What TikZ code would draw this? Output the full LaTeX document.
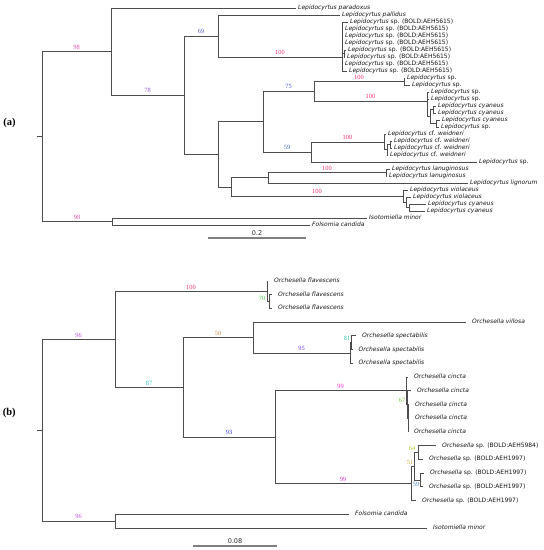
\documentclass[tikz,border=0pt]{standalone}
\usepackage{fontspec}
\usepackage{tikz}
\newfontfamily\leaffont{DejaVu Sans}[ItalicFont={DejaVu Sans Oblique}]
\newfontfamily\numfont{Liberation Serif}
\definecolor{c98}{HTML}{E050B0}
\definecolor{c78}{HTML}{9F50E0}
\definecolor{c69}{HTML}{5A5AE0}
\definecolor{c100}{HTML}{E8306A}
\definecolor{c75}{HTML}{4A50E0}
\definecolor{c59}{HTML}{4A70E0}
\definecolor{c96}{HTML}{C050E0}
\definecolor{c87}{HTML}{30B8C8}
\definecolor{c50}{HTML}{E08A4A}
\definecolor{c93}{HTML}{3A3AE0}
\definecolor{c95}{HTML}{6A40E0}
\definecolor{c81}{HTML}{30C8A8}
\definecolor{c99}{HTML}{E030C8}
\definecolor{c67}{HTML}{78C830}
\definecolor{c70}{HTML}{40D840}
\definecolor{c64}{HTML}{A8C830}
\definecolor{c51}{HTML}{D0A830}
\definecolor{c59b}{HTML}{4888E0}

\begin{document}
\begin{tikzpicture}[x=1pt, y=-1pt,
	br/.style={draw=black!70, line width=0.85pt},
	leafa/.style={anchor=west, inner xsep=2.5pt, inner ysep=0pt, text height=4.4pt, text depth=1.3pt, text=black!92, font=\leaffont\fontsize{6}{7}\selectfont},
	leafb/.style={leafa, inner xsep=6pt},
	bs/.style={font=\numfont\fontsize{6.4}{7}\selectfont, above, inner sep=1.8pt, pos=0.75},
	bsl/.style={font=\numfont\fontsize{6.4}{7}\selectfont, inner sep=0pt},
	scalebar/.style={draw=black!50, line width=1.4pt},
	barlab/.style={font=\leaffont\fontsize{6.5}{7}\selectfont, text=black!85, above, inner sep=2pt},
	paneltag/.style={font=\numfont\bfseries\fontsize{10.5}{12}\selectfont}]
	\useasboundingbox (0, 0) rectangle (544, 550);
	% (a) Lepidocyrtus
	\node [paneltag] (pa) at (9.5, 123) {(a)};
	\node [leafa] (l0) at (295.5, 8) {\textit{Lepidocyrtus paradoxus}};
	\node [leafa] (l1) at (339.5, 15) {\textit{Lepidocyrtus pallidus}};
	\node [leafa] (l2) at (347.5, 22) {\textit{Lepidocyrtus} sp. (BOLD:AEH5615)};
	\node [leafa] (l3) at (342.5, 29) {\textit{Lepidocyrtus} sp. (BOLD:AEH5615)};
	\node [leafa] (l4) at (342.5, 36) {\textit{Lepidocyrtus} sp. (BOLD:AEH5615)};
	\node [leafa] (l5) at (342.5, 43) {\textit{Lepidocyrtus} sp. (BOLD:AEH5615)};
	\node [leafa] (l6) at (345.5, 50) {\textit{Lepidocyrtus} sp. (BOLD:AEH5615)};
	\node [leafa] (l7) at (344.5, 57) {\textit{Lepidocyrtus} sp. (BOLD:AEH5615)};
	\node [leafa] (l8) at (342.5, 64) {\textit{Lepidocyrtus} sp. (BOLD:AEH5615)};
	\node [leafa] (l9) at (346.5, 71) {\textit{Lepidocyrtus} sp. (BOLD:AEH5615)};
	\node [leafa] (l10) at (404.5, 78) {\textit{Lepidocyrtus} sp.};
	\node [leafa] (l11) at (409.5, 85) {\textit{Lepidocyrtus} sp.};
	\node [leafa] (l12) at (428.5, 92) {\textit{Lepidocyrtus} sp.};
	\node [leafa] (l13) at (428.5, 99) {\textit{Lepidocyrtus} sp.};
	\node [leafa] (l14) at (435.5, 106) {\textit{Lepidocyrtus cyaneus}};
	\node [leafa] (l15) at (435.5, 113) {\textit{Lepidocyrtus cyaneus}};
	\node [leafa] (l16) at (439.5, 120) {\textit{Lepidocyrtus cyaneus}};
	\node [leafa] (l17) at (438.5, 127) {\textit{Lepidocyrtus} sp.};
	\node [leafa] (l18) at (385.5, 134) {\textit{Lepidocyrtus} cf. \textit{weidneri}};
	\node [leafa] (l19) at (391.5, 141) {\textit{Lepidocyrtus} cf. \textit{weidneri}};
	\node [leafa] (l20) at (391.5, 148) {\textit{Lepidocyrtus} cf. \textit{weidneri}};
	\node [leafa] (l21) at (387.5, 155) {\textit{Lepidocyrtus} cf. \textit{weidneri}};
	\node [leafa] (l22) at (476.5, 162) {\textit{Lepidocyrtus} sp.};
	\node [leafa] (l23) at (389.5, 169) {\textit{Lepidocyrtus lanuginosus}};
	\node [leafa] (l24) at (386.5, 176) {\textit{Lepidocyrtus lanuginosus}};
	\node [leafa] (l25) at (467.5, 183) {\textit{Lepidocyrtus lignorum}};
	\node [leafa] (l26) at (407.5, 190) {\textit{Lepidocyrtus violaceus}};
	\node [leafa] (l27) at (410.5, 197) {\textit{Lepidocyrtus violaceus}};
	\node [leafa] (l28) at (425.5, 204) {\textit{Lepidocyrtus cyaneus}};
	\node [leafa] (l29) at (424.5, 211) {\textit{Lepidocyrtus cyaneus}};
	\node [leafa] (l30) at (366.5, 218) {\textit{Isotomiella minor}};
	\node [leafa] (l31) at (309.5, 225) {\textit{Folsomia candida}};
	\coordinate (a0s) at (37, 136.5);
	\coordinate (a0) at (42, 136.5);
	\coordinate (a1) at (111, 51.6);
	\coordinate (a2) at (184, 95.2);
	\coordinate (a3) at (218, 36);
	\coordinate (a4) at (342, 57);
	\coordinate (a4s) at (344, 53.5);
	\coordinate (a5) at (218, 154.3);
	\coordinate (a6) at (263, 121.6);
	\coordinate (a7) at (314, 91.25);
	\coordinate (a8) at (404, 81.5);
	\coordinate (a9) at (427, 101);
	\coordinate (a9s) at (430, 116.5);
	\coordinate (a9t) at (433, 109.5);
	\coordinate (a9u) at (436, 123.5);
	\coordinate (a10) at (311, 152);
	\coordinate (a11) at (384, 142);
	\coordinate (a11s) at (387, 149.75);
	\coordinate (a11t) at (390, 144.5);
	\coordinate (a12) at (231, 187);
	\coordinate (a13) at (268, 177.75);
	\coordinate (a14) at (386, 172.5);
	\coordinate (a15) at (403, 196.1);
	\coordinate (a15s) at (406, 202.25);
	\coordinate (a15t) at (409, 207.5);
	\coordinate (a16) at (112, 221.5);
	\draw [br] (a0s) -- (a0);
	\draw [br] (a0) |- node [bs, text=c98] {98} (a1);
	\draw [br] (a0) |- node [bs, text=c98] {98} (a16);
	\draw [br] (a1) |- (l0.west);
	\draw [br] (a1) |- node [bs, text=c78] {78} (a2);
	\draw [br] (a2) |- node [bs, text=c69] {69} (a3);
	\draw [br] (a2) |- (a5);
	\draw [br] (a3) |- (l1.west);
	\draw [br] (a3) |- node [bs, text=c100] {100} (a4);
	\draw [br] (a4) |- (l2.west);
	\draw [br] (a4) |- (l3.west);
	\draw [br] (a4) |- (l4.west);
	\draw [br] (a4) |- (l5.west);
	\draw [br] (a4) |- (a4s);
	\draw [br] (a4) |- (l8.west);
	\draw [br] (a4) |- (l9.west);
	\draw [br] (a4s) |- (l6.west);
	\draw [br] (a4s) |- (l7.west);
	\draw [br] (a5) |- (a6);
	\draw [br] (a5) |- (a12);
	\draw [br] (a6) |- node [bs, text=c75] {75} (a7);
	\draw [br] (a6) |- node [bs, text=c59] {59} (a10);
	\draw [br] (a7) |- node [bs, text=c100] {100} (a8);
	\draw [br] (a7) |- node [bs, text=c100] {100} (a9);
	\draw [br] (a8) |- (l10.west);
	\draw [br] (a8) |- (l11.west);
	\draw [br] (a9) |- (l12.west);
	\draw [br] (a9) |- (l13.west);
	\draw [br] (a9) |- (a9s);
	\draw [br] (a9s) |- (a9t);
	\draw [br] (a9s) |- (a9u);
	\draw [br] (a9t) |- (l14.west);
	\draw [br] (a9t) |- (l15.west);
	\draw [br] (a9u) |- (l16.west);
	\draw [br] (a9u) |- (l17.west);
	\draw [br] (a10) |- node [bs, text=c100] {100} (a11);
	\draw [br] (a10) |- (l22.west);
	\draw [br] (a11) |- (l18.west);
	\draw [br] (a11) |- (a11s);
	\draw [br] (a11s) |- (a11t);
	\draw [br] (a11s) |- (l21.west);
	\draw [br] (a11t) |- (l19.west);
	\draw [br] (a11t) |- (l20.west);
	\draw [br] (a12) |- (a13);
	\draw [br] (a12) |- node [bs, text=c100] {100} (a15);
	\draw [br] (a13) |- node [bs, text=c100] {100} (a14);
	\draw [br] (a13) |- (l25.west);
	\draw [br] (a14) |- (l23.west);
	\draw [br] (a14) |- (l24.west);
	\draw [br] (a15) |- (l26.west);
	\draw [br] (a15) |- (a15s);
	\draw [br] (a15s) |- (l27.west);
	\draw [br] (a15s) |- (a15t);
	\draw [br] (a15t) |- (l28.west);
	\draw [br] (a15t) |- (l29.west);
	\draw [br] (a16) |- (l30.west);
	\draw [br] (a16) |- (l31.west);
	\coordinate (sa0) at (208, 238);
	\coordinate (sa1) at (306, 238);
	\draw [scalebar] (sa0) -- node [barlab] {0.2} (sa1);
	% (b) Orchesella
	\node [paneltag] (pb) at (9.3, 413) {(b)};
	\node [leafb] (m0) at (268, 281) {\textit{Orchesella flavescens}};
	\node [leafb] (m1) at (272, 294.7) {\textit{Orchesella flavescens}};
	\node [leafb] (m2) at (272, 308.4) {\textit{Orchesella flavescens}};
	\node [leafb] (m3) at (466, 322.2) {\textit{Orchesella villosa}};
	\node [leafb] (m4) at (356, 335.9) {\textit{Orchesella spectabilis}};
	\node [leafb] (m5) at (352.5, 349.6) {\textit{Orchesella spectabilis}};
	\node [leafb] (m6) at (352.5, 363.3) {\textit{Orchesella spectabilis}};
	\node [leafb] (m7) at (408, 377) {\textit{Orchesella cincta}};
	\node [leafb] (m8) at (411, 390.8) {\textit{Orchesella cincta}};
	\node [leafb] (m9) at (409, 404.5) {\textit{Orchesella cincta}};
	\node [leafb] (m10) at (409, 418.2) {\textit{Orchesella cincta}};
	\node [leafb] (m11) at (408, 431.9) {\textit{Orchesella cincta}};
	\node [leafb] (m12) at (436, 445.6) {\textit{Orchesella} sp. (BOLD:AEH5984)};
	\node [leafb] (m13) at (423, 459.4) {\textit{Orchesella} sp. (BOLD:AEH1997)};
	\node [leafb] (m14) at (424, 473.1) {\textit{Orchesella} sp. (BOLD:AEH1997)};
	\node [leafb] (m15) at (423, 486.8) {\textit{Orchesella} sp. (BOLD:AEH1997)};
	\node [leafb] (m16) at (416, 500.5) {\textit{Orchesella} sp. (BOLD:AEH1997)};
	\node [leafb] (m17) at (349, 514.2) {\textit{Folsomia candida}};
	\node [leafb] (m18) at (427, 528) {\textit{Isotomiella minor}};
	\coordinate (b0s) at (37, 430.2);
	\coordinate (b0) at (42, 430.2);
	\coordinate (b1) at (115, 339.3);
	\coordinate (b2) at (267, 291.3);
	\coordinate (b2s) at (269, 301.5);
	\coordinate (b3) at (183, 387.3);
	\coordinate (b4) at (253, 337.6);
	\coordinate (b5) at (350, 353);
	\coordinate (b5s) at (351.5, 342.8);
	\coordinate (b7) at (275, 437);
	\coordinate (b8) at (406, 390.7);
	\coordinate (b8s) at (407, 404.5);
	\coordinate (b8t) at (408, 418.2);
	\coordinate (b11) at (411, 483.4);
	\coordinate (b11s) at (414, 466.2);
	\coordinate (b11t) at (418, 452.5);
	\coordinate (b11u) at (420, 480);
	\coordinate (b15) at (115, 521.1);
	\draw [br] (b0s) -- (b0);
	\draw [br] (b0) |- node [bs, text=c96] {96} (b1);
	\draw [br] (b0) |- node [bs, text=c96] {96} (b15);
	\draw [br] (b1) |- node [bs, text=c100] {100} (b2);
	\draw [br] (b1) |- node [bs, text=c87] {87} (b3);
	\draw [br] (b2) |- (m0.west);
	\draw [br] (b2) |- (b2s);
	\draw [br] (b2s) |- (m1.west);
	\draw [br] (b2s) |- (m2.west);
	\draw [br] (b3) |- node [bs, text=c50] {50} (b4);
	\draw [br] (b3) |- node [bs, text=c93] {93} (b7);
	\draw [br] (b4) |- (m3.west);
	\draw [br] (b4) |- node [bs, text=c95] {95} (b5);
	\draw [br] (b5) |- (b5s);
	\draw [br] (b5) |- (m6.west);
	\draw [br] (b5s) |- (m4.west);
	\draw [br] (b5s) |- (m5.west);
	\draw [br] (b7) |- node [bs, text=c99] {99} (b8);
	\draw [br] (b7) |- node [bs, text=c99] {99} (b11);
	\draw [br] (b8) |- (m7.west);
	\draw [br] (b8) |- (b8s);
	\draw [br] (b8s) |- (m8.west);
	\draw [br] (b8s) |- (b8t);
	\draw [br] (b8t) |- (m9.west);
	\draw [br] (b8t) |- (m10.west);
	\draw [br] (b8t) |- (m11.west);
	\draw [br] (b11) |- (b11s);
	\draw [br] (b11) |- (m16.west);
	\draw [br] (b11s) |- (b11t);
	\draw [br] (b11s) |- (b11u);
	\draw [br] (b11t) |- (m12.west);
	\draw [br] (b11t) |- (m13.west);
	\draw [br] (b11u) |- (m14.west);
	\draw [br] (b11u) |- (m15.west);
	\draw [br] (b15) |- (m17.west);
	\draw [br] (b15) |- (m18.west);
	\node [bsl, text=c70] (k70) at (262, 298) {70};
	\node [bsl, text=c81] (k81) at (347, 338) {81};
	\node [bsl, text=c67] (k67) at (402, 400) {67};
	\node [bsl, text=c64] (k64) at (412, 448) {64};
	\node [bsl, text=c51] (k51) at (410, 462) {51};
	\node [bsl, text=c59b] (k59) at (416, 484) {59};
	\coordinate (sb0) at (193, 546);
	\coordinate (sb1) at (277, 546);
	\draw [scalebar] (sb0) -- node [barlab] {0.08} (sb1);
\end{tikzpicture}
\end{document}
